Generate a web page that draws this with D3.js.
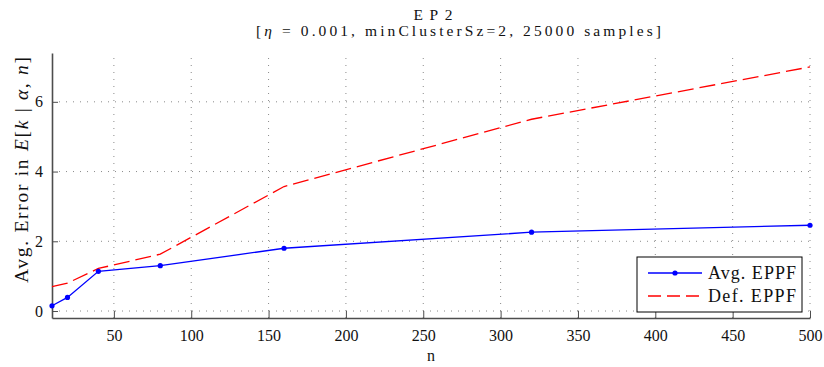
<!DOCTYPE html>
<html>
<head>
<meta charset="utf-8">
<script src="https://cdn.jsdelivr.net/npm/d3@7"></script>
<style>
  html, body { margin: 0; padding: 0; background: #fff; }
  svg { display: block; }
</style>
</head>
<body>
<svg id="chart" width="824" height="367"></svg>
<script>
// Sample sizes (n) and the two error curves
const nValues = [10, 20, 40, 80, 160, 320, 500];
const avgEPPF = [0.15, 0.39, 1.14, 1.30, 1.80, 2.26, 2.46];
const defEPPF = [0.70, 0.80, 1.22, 1.63, 3.57, 5.50, 7.00];
const xTicks = [50, 100, 150, 200, 250, 300, 350, 400, 450, 500];
const yTicks = [0, 2, 4, 6];
const seriesNames = ["Avg. EPPF", "Def. EPPF"];

const FONT = "Liberation Serif";
const svg = d3.select("#chart");
const m = { left: 52, right: 14, top: 53, bottom: 49 };
const W = 824, H = 367;

const x = d3.scaleLinear().domain([10, 500]).range([m.left, W - m.right]);
const y = d3.scaleLinear().domain([-0.2, 7.4]).range([H - m.bottom, m.top]);

const axisColor = "#4d4d4d";
const gridColor = "#8a8a8a";

// dotted grid
const grid = svg.append("g");
grid.selectAll("line.vx").data(xTicks).join("line")
  .attr("x1", d => x(d)).attr("x2", d => x(d))
  .attr("y1", y.range()[0]).attr("y2", y.range()[1])
  .attr("stroke", gridColor).attr("stroke-width", 1)
  .attr("stroke-dasharray", "1,6");
grid.selectAll("line.hy").data(yTicks).join("line")
  .attr("x1", x.range()[0]).attr("x2", x.range()[1])
  .attr("y1", d => y(d)).attr("y2", d => y(d))
  .attr("stroke", gridColor).attr("stroke-width", 1)
  .attr("stroke-dasharray", "1,6");

// axes with inward ticks
const xAxis = svg.append("g")
  .attr("transform", `translate(0,${y.range()[0]})`)
  .call(d3.axisBottom(x).tickValues(xTicks).tickSizeInner(-7).tickSizeOuter(0).tickPadding(12));
const yAxis = svg.append("g")
  .attr("transform", `translate(${x.range()[0]},0)`)
  .call(d3.axisLeft(y).tickValues(yTicks).tickSizeInner(-6).tickSizeOuter(0).tickPadding(9));

[xAxis, yAxis].forEach(g => {
  g.attr("font-family", FONT).attr("font-size", 16);
  g.select(".domain").attr("stroke", axisColor).attr("stroke-width", 1.6);
  g.selectAll(".tick line").attr("stroke", axisColor).attr("stroke-width", 1);
  g.selectAll(".tick text").attr("fill", "#111");
});

// curves
const line = d3.line().x(d => x(d[0])).y(d => y(d[1]));
const avgPts = nValues.map((n, i) => [n, avgEPPF[i]]);
const defPts = nValues.map((n, i) => [n, defEPPF[i]]);

svg.append("path").datum(defPts)
  .attr("d", line).attr("fill", "none")
  .attr("stroke", "#ff0000").attr("stroke-width", 1.3)
  .attr("stroke-dasharray", "16,6");

svg.append("path").datum(avgPts)
  .attr("d", line).attr("fill", "none")
  .attr("stroke", "#0000ff").attr("stroke-width", 1.3);
svg.append("g").selectAll("circle").data(avgPts).join("circle")
  .attr("cx", d => x(d[0])).attr("cy", d => y(d[1])).attr("r", 2.6)
  .attr("fill", "#0000ff");

// title (two lines)
svg.append("text").attr("x", 433).attr("y", 19.5)
  .attr("text-anchor", "middle").attr("fill", "#111")
  .attr("font-family", FONT).attr("font-size", 15.5)
  .attr("textLength", 39).attr("lengthAdjust", "spacing")
  .text("EP2");
const t2 = svg.append("text").attr("x", 458.5).attr("y", 36)
  .attr("text-anchor", "middle").attr("fill", "#111")
  .attr("font-family", FONT).attr("font-size", 15.5)
  .attr("textLength", 405).attr("lengthAdjust", "spacing");
t2.append("tspan").text("[");
t2.append("tspan").attr("font-style", "italic").text("η");
t2.append("tspan").text(" = 0.001, minClusterSz=2, 25000 samples]");

// axis labels
svg.append("text").attr("x", 431).attr("y", 361)
  .attr("text-anchor", "middle").attr("fill", "#111")
  .attr("font-family", FONT).attr("font-size", 16).text("n");

const yl = svg.append("text")
  .attr("transform", "translate(27.5,170) rotate(-90)")
  .attr("text-anchor", "middle").attr("fill", "#111")
  .attr("font-family", FONT).attr("font-size", 19.5)
  .attr("textLength", 226).attr("lengthAdjust", "spacing");
yl.append("tspan").text("Avg.  Error in ");
yl.append("tspan").attr("font-style", "italic").text("E");
yl.append("tspan").text("[");
yl.append("tspan").attr("font-style", "italic").text("k");
yl.append("tspan").text(" | ");
yl.append("tspan").attr("font-style", "italic").text("α");
yl.append("tspan").text(", ");
yl.append("tspan").attr("font-style", "italic").text("n");
yl.append("tspan").text("]");

// legend
const lg = svg.append("g").attr("transform", "translate(637,257)");
lg.append("rect").attr("width", 165).attr("height", 55)
  .attr("fill", "#fff").attr("stroke", "#000").attr("stroke-width", 1);
const legendStyles = [
  { color: "#0000ff", dash: null, marker: true },
  { color: "#ff0000", dash: "13,6", marker: false }
];
seriesNames.forEach((name, i) => {
  const yy = 16 + i * 23;
  const s = legendStyles[i];
  lg.append("line").attr("x1", 11).attr("x2", 65).attr("y1", yy).attr("y2", yy)
    .attr("stroke", s.color).attr("stroke-width", 1.3)
    .attr("stroke-dasharray", s.dash);
  if (s.marker) {
    lg.append("circle").attr("cx", 38).attr("cy", yy).attr("r", 2.6).attr("fill", s.color);
  }
  lg.append("text").attr("x", 71).attr("y", yy + 6.3)
    .attr("fill", "#111").attr("font-family", FONT).attr("font-size", 18)
    .attr("textLength", 88).attr("lengthAdjust", "spacing")
    .text(name);
});
</script>
</body>
</html>
